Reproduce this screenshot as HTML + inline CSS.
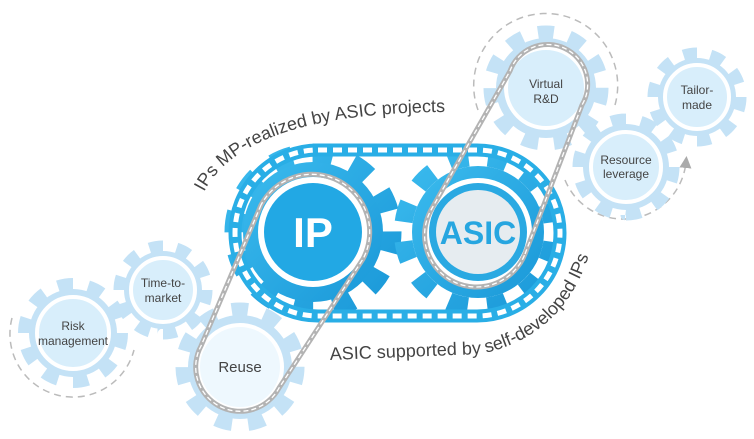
<!DOCTYPE html>
<html><head><meta charset="utf-8"><style>
html,body{margin:0;padding:0;background:#fff;width:754px;height:439px;overflow:hidden}
svg{display:block}
text{font-family:"Liberation Sans","DejaVu Sans",sans-serif}
</style></head><body>
<svg width="754" height="439" viewBox="0 0 754 439" xmlns="http://www.w3.org/2000/svg">
<defs>
<linearGradient id="bg" x1="0" y1="0" x2="1" y2="1"><stop offset="0" stop-color="#3bbbee"/><stop offset="1" stop-color="#1a98d8"/></linearGradient>
<marker id="ar" markerWidth="8" markerHeight="8" refX="4" refY="4" orient="auto"><path d="M0,0 L8,4 L0,8 z" fill="#aaa"/></marker>
</defs>

<g fill="none" stroke="#bbb" stroke-width="1.5" stroke-dasharray="7 5">
<path d="M12,318 A62,62 0 0 0 134,350"/>
<path d="M478,110 A72,72 0 1 1 615,105"/>
<path d="M565,180 A63,63 0 0 0 686,162" marker-end="url(#ar)"/>
</g>

<g fill="#c4e2f6">
 <circle cx="73" cy="333" r="44"/><circle cx="73" cy="333" r="49" fill="none" stroke="#c4e2f6" stroke-width="12" pathLength="20" stroke-dasharray="1 1"/>
 <circle cx="163" cy="290" r="39"/><circle cx="163" cy="290" r="44" fill="none" stroke="#c4e2f6" stroke-width="11" pathLength="20" stroke-dasharray="1 1"/>
 <circle cx="240" cy="367" r="52"/><circle cx="240" cy="367" r="58" fill="none" stroke="#c4e2f6" stroke-width="13" pathLength="22" stroke-dasharray="1 1"/>
 <circle cx="546" cy="88" r="50"/><circle cx="546" cy="88" r="56" fill="none" stroke="#c4e2f6" stroke-width="13" pathLength="22" stroke-dasharray="1 1"/>
 <circle cx="626" cy="167" r="43"/><circle cx="626" cy="167" r="48" fill="none" stroke="#c4e2f6" stroke-width="11" pathLength="20" stroke-dasharray="1 1"/>
 <circle cx="697" cy="97" r="39"/><circle cx="697" cy="97" r="44" fill="none" stroke="#c4e2f6" stroke-width="11" pathLength="20" stroke-dasharray="1 1"/>
</g>
<g fill="#d8eefb" stroke="#fff" stroke-width="4">
 <circle cx="73" cy="333" r="36"/>
 <circle cx="163" cy="290" r="32"/>
 <circle cx="240" cy="367" r="42" fill="#eef8fe"/>
 <circle cx="546" cy="88" r="40"/>
 <circle cx="626" cy="167" r="35"/>
 <circle cx="697" cy="97" r="32"/>
</g>

<!-- main gears -->
<circle cx="313" cy="232" r="70" fill="url(#bg)"/>
<circle cx="313" cy="232" r="79" fill="none" stroke="url(#bg)" stroke-width="19" pathLength="24" stroke-dasharray="1 1"/>
<circle cx="478" cy="232" r="66" fill="url(#bg)"/>
<circle cx="478" cy="232" r="75" fill="none" stroke="url(#bg)" stroke-width="18" pathLength="24" stroke-dasharray="1 1" transform="rotate(8 478 232)"/>

<!-- track -->
<rect x="235" y="150" width="325" height="166" rx="83" fill="none" stroke="#29aee6" stroke-width="13"/>
<rect x="235" y="150" width="325" height="166" rx="83" fill="none" stroke="#fff" stroke-width="5" stroke-dasharray="9 6"/>

<circle cx="313" cy="232" r="55" fill="#fff"/>
<circle cx="313" cy="232" r="49" fill="#22a8e4"/>
<circle cx="478" cy="232" r="54" fill="#fff"/>
<circle cx="478" cy="232" r="49" fill="#2aa9e2"/>
<circle cx="478" cy="232" r="42" fill="#e6ecf0"/>

<text x="313" y="247" font-size="42" font-weight="bold" fill="#fff" text-anchor="middle">IP</text>
<text x="478" y="244" font-size="32" font-weight="bold" fill="#27a6e0" text-anchor="middle">ASIC</text>

<g fill="none">
<path d="M261,205 L201,346 A44,44 0 1 0 279,388 L363,259 A56,56 0 1 0 261,205 Z" stroke="#b3b3b3" stroke-width="5"/>
<path d="M261,205 L201,346 A44,44 0 1 0 279,388 L363,259 A56,56 0 1 0 261,205 Z" stroke="#fff" stroke-width="1.3" stroke-dasharray="5 3"/>
<path d="M525,254 L582,105 A40,40 0 1 0 510,71 L431,210 A52,52 0 1 0 525,254 Z" stroke="#b3b3b3" stroke-width="5"/>
<path d="M525,254 L582,105 A40,40 0 1 0 510,71 L431,210 A52,52 0 1 0 525,254 Z" stroke="#fff" stroke-width="1.3" stroke-dasharray="5 3"/>
</g>

<g fill="#444" font-size="12" text-anchor="middle">
<text x="73" y="330">Risk</text><text x="73" y="345">management</text>
<text x="163" y="287">Time-to-</text><text x="163" y="302">market</text>
<text x="240" y="372" font-size="15">Reuse</text>
<text x="546" y="88">Virtual</text><text x="546" y="103">R&amp;D</text>
<text x="626" y="164">Resource</text><text x="626" y="178">leverage</text>
<text x="697" y="94">Tailor-</text><text x="697" y="109">made</text>
</g>

<path id="p1" d="M204,192 Q245,112 450,112" fill="none"/>
<path id="p2" d="M330,360 L480,354 Q575,335 596,228" fill="none"/>
<text font-size="18" fill="#444"><textPath href="#p1">IPs MP-realized by ASIC projects</textPath></text>
<text font-size="18" fill="#444"><textPath href="#p2">ASIC supported by self-developed IPs</textPath></text>
</svg>
</body></html>
